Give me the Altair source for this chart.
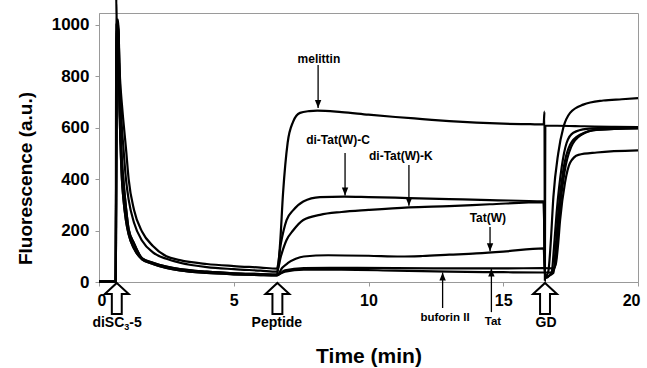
import altair as alt
import pandas as pd

# ---------------- data ----------------
BASE_T = [0.0, 0.62]
BASE_V = [2, 2]

DECAY_T = [0.66, 0.70, 0.78, 0.85, 0.90, 1.0, 1.1, 1.3, 1.6, 2.0, 2.5, 3.0, 4.0, 5.0, 6.0, 6.6]
DECAY_A = [1000, 1020, 790, 690, 630, 520, 400, 280, 195, 140, 100, 85, 70, 62, 56, 52]
DECAY_B = [1000, 1010, 760, 600, 530, 400, 320, 230, 160, 115, 90, 75, 58, 50, 44, 40]
DECAY_C = [1000, 1000, 640, 470, 400, 290, 205, 150, 92, 75, 60, 50, 40, 34, 31, 29]
DECAY_D = [1000, 990, 600, 400, 330, 240, 185, 130, 88, 70, 55, 45, 35, 30, 27, 26]

MEL_SPIKE_T = [0.64]
MEL_SPIKE_V = [1100]

MEL_T = [6.72, 6.83, 7.0, 7.2, 7.46, 7.8, 8.1, 9.0, 10.0, 11.0, 12.0, 13.0, 14.0, 15.0, 16.0, 16.5,
         16.53, 16.545, 16.56, 16.6, 17.0, 18.0, 19.0, 20.0]
MEL_V = [150, 346, 541, 622, 657, 664, 666, 660, 650, 641, 633, 625, 619, 615, 613, 612,
         662, 5, 606, 607, 607, 605, 603, 602]

DTC_T = [6.75, 6.96, 7.2, 7.58, 8.2, 9.1, 10.0, 11.5, 13.0, 14.5, 16.5, 16.55, 16.67, 16.76, 16.86,
         17.04, 17.23, 17.48, 17.97, 18.71, 19.4, 20.0]
DTC_V = [150, 240, 278, 313, 330, 332, 330, 326, 322, 318, 313, 20, 40, 150, 330,
         500, 600, 657, 689, 705, 710, 714]

DTK_T = [6.75, 6.96, 7.2, 7.58, 8.2, 9.0, 10.0, 11.5, 13.0, 14.5, 16.5, 16.55, 16.80, 16.88, 16.98,
         17.17, 17.35, 17.60, 18.10, 19.08, 20.0]
DTK_V = [100, 163, 200, 241, 261, 272, 280, 290, 295, 302, 310, 15, 40, 130, 268,
         447, 540, 580, 595, 600, 601]

TATW_T = [6.8, 7.0, 7.3, 7.6, 8.5, 10.0, 11.2, 12.0, 13.0, 14.0, 15.0, 16.5, 16.55, 16.86, 16.95,
          17.04, 17.23, 17.48, 17.85, 18.47, 20.0]
TATW_V = [55, 73, 90, 99, 104, 102, 99, 101, 106, 111, 118, 131, 20, 35, 140,
          268, 436, 533, 572, 591, 598]

BUF_T = [6.9, 7.6, 9.0, 11.0, 13.0, 15.0, 16.5, 16.8, 16.92, 17.0, 17.08, 17.27, 17.52, 17.9, 18.5, 20.0]
BUF_V = [40, 48, 48, 44, 40, 38, 37, 37, 60, 140, 260, 425, 525, 572, 592, 597]

TAT_T = [6.9, 7.6, 9.0, 11.0, 13.0, 15.0, 16.5, 16.85, 16.95, 17.03, 17.11, 17.29, 17.48, 17.79, 18.47, 20.0]
TAT_V = [45, 54, 55, 54, 53, 53, 54, 53, 70, 140, 241, 385, 463, 494, 503, 511]

# annotations (data coordinates)
LABEL_TEXT = ["melittin", "di-Tat(W)-C", "di-Tat(W)-K", "Tat(W)"]
LABEL_T = [8.16, 8.87, 11.2, 14.43]
LABEL_V = [866, 552, 489, 249]
DOWN_T = [8.13, 9.13, 11.50, 14.51]
DOWN_FROM = [843, 501, 455, 214]
DOWN_TIP = [676, 336, 296, 119]

LOW_TEXT = ["buforin II", "Tat"]
LOW_T = [12.84, 14.62]
LOW_V = [-140, -155]
UP_T = [12.75, 14.56]
UP_FROM = [-101, -117]
UP_TIP = [37, 52]

EVENT_T = [0.66, 6.62, 16.55]
EVENT_V = [-64, -64, -64]
EVENT_TEXT = ["Peptide", "GD"]
EVENT_TEXT_T = [6.60, 16.59]
EVENT_TEXT_V = [-159, -159]
DYE_T = [0.668]
DYE_V = [-159]

FONT = "Liberation Sans"

# ---------------- build tables ----------------
traces = [
    ("melittin", BASE_T + MEL_SPIKE_T + DECAY_T + MEL_T, BASE_V + MEL_SPIKE_V + DECAY_C + MEL_V),
    ("di-Tat(W)-C", BASE_T + DECAY_T + DTC_T, BASE_V + DECAY_A + DTC_V),
    ("di-Tat(W)-K", BASE_T + DECAY_T + DTK_T, BASE_V + DECAY_B + DTK_V),
    ("Tat(W)", BASE_T + DECAY_T + TATW_T, BASE_V + DECAY_D + TATW_V),
    ("buforin II", BASE_T + DECAY_T + BUF_T, BASE_V + DECAY_C + BUF_V),
    ("Tat", BASE_T + DECAY_T + TAT_T, BASE_V + DECAY_D + TAT_V),
]
rows = []
for name, ts, vs in traces:
    for i, (t, v) in enumerate(zip(ts, vs)):
        rows.append({"series": name, "t": t, "v": v, "i": i})
df = pd.DataFrame(rows)

lab_df = pd.DataFrame({"t": LABEL_T, "v": LABEL_V, "text": LABEL_TEXT})
down_df = pd.DataFrame({"t": DOWN_T, "v": DOWN_FROM, "v2": DOWN_TIP})
downtip_df = pd.DataFrame({"t": DOWN_T, "v": DOWN_TIP})
low_df = pd.DataFrame({"t": LOW_T, "v": LOW_V, "text": LOW_TEXT})
up_df = pd.DataFrame({"t": UP_T, "v": UP_FROM, "v2": UP_TIP})
uptip_df = pd.DataFrame({"t": UP_T, "v": UP_TIP})
event_df = pd.DataFrame({"t": EVENT_T, "v": EVENT_V})
event_text_df = pd.DataFrame({"t": EVENT_TEXT_T, "v": EVENT_TEXT_V, "text": EVENT_TEXT})
dye_df = pd.DataFrame({"t": DYE_T, "v": DYE_V})

xs = alt.Scale(domain=[0, 20], nice=False, zero=False)
ys = alt.Scale(domain=[0, 1045], nice=False, zero=False)

x_axis = alt.Axis(values=[0, 5, 10, 15, 20], title="Time (min)", grid=False,
                  labelFont=FONT, labelFontSize=16, labelFontWeight="bold", labelColor="black",
                  labelPadding=6, labelFlushOffset=2, tickSize=4, tickColor="#999999", domainColor="#999999",
                  titleFont=FONT, titleFontSize=21, titleFontWeight="bold", titleColor="black",
                  titleY=74, titleBaseline="middle")
y_axis = alt.Axis(values=[0, 200, 400, 600, 800, 1000], format="d", title="Fluorescence (a.u.)", grid=False,
                  labelFont=FONT, labelFontSize=17, labelFontWeight="bold", labelColor="black",
                  labelPadding=6, tickSize=4, tickColor="#999999", domainColor="#999999",
                  titleFont=FONT, titleFontSize=19, titleFontWeight="bold", titleColor="black",
                  titleAngle=270, titleX=-74, titleY=165, titleBaseline="middle", titleAlign="center")

X = alt.X("t:Q", scale=xs, axis=x_axis)
Y = alt.Y("v:Q", scale=ys, axis=y_axis)

lines = alt.Chart(df).mark_line(color="black", strokeWidth=2.2, interpolate="monotone", clip=False).encode(
    x=X, y=Y, detail="series:N", order="i:Q")

down_rules = alt.Chart(down_df).mark_rule(color="black", strokeWidth=1.3).encode(
    x=X, y=Y, y2="v2:Q")
down_heads = alt.Chart(downtip_df).mark_point(
    shape="M0,0 L-0.4,-1 L0.4,-1 Z", filled=True, color="black", size=256, opacity=1).encode(x=X, y=Y)
up_rules = alt.Chart(up_df).mark_rule(color="black", strokeWidth=1.3).encode(
    x=X, y=Y, y2="v2:Q")
up_heads = alt.Chart(uptip_df).mark_point(
    shape="M0,0 L-0.4,1 L0.4,1 Z", filled=True, color="black", size=256, opacity=1).encode(x=X, y=Y)

labels = alt.Chart(lab_df).mark_text(font=FONT, fontSize=12, fontWeight="bold", color="black",
                                     baseline="middle", align="center").encode(x=X, y=Y, text="text:N")
low_labels = alt.Chart(low_df).mark_text(font=FONT, fontSize=11.5, fontWeight="bold", color="black",
                                         baseline="middle", align="center").encode(x=X, y=Y, text="text:N")

events = alt.Chart(event_df).mark_point(
    shape="M0,-1 L0.77,-0.29 L0.32,-0.29 L0.32,1 L-0.32,1 L-0.32,-0.29 L-0.77,-0.29 Z",
    filled=True, fill="white", stroke="black", strokeWidth=2, size=961, opacity=1).encode(x=X, y=Y)
event_labels = alt.Chart(event_text_df).mark_text(font=FONT, fontSize=14, fontWeight="bold", color="black",
                                                  baseline="middle", align="center").encode(x=X, y=Y, text="text:N")
dye_a = alt.Chart(dye_df).mark_text(text="diSC", font=FONT, fontSize=14, fontWeight="bold", color="black",
                                    baseline="middle", align="right", dx=7.3).encode(x=X, y=Y)
dye_b = alt.Chart(dye_df).mark_text(text="3", font=FONT, fontSize=9, fontWeight="bold", color="black",
                                    baseline="middle", align="left", dx=7.3, dy=4).encode(x=X, y=Y)
dye_c = alt.Chart(dye_df).mark_text(text="-5", font=FONT, fontSize=14, fontWeight="bold", color="black",
                                    baseline="middle", align="left", dx=12.3).encode(x=X, y=Y)

chart = alt.layer(
    lines, down_rules, down_heads, up_rules, up_heads, labels, low_labels,
    events, event_labels, dye_a, dye_b, dye_c
).properties(
    width=539, height=269,
    autosize=alt.AutoSizeParams(type="none"),
    padding={"left": 99, "top": 13, "right": 9, "bottom": 86},
    background="white",
).configure_view(stroke="#9a9a9a", strokeWidth=1)

chart.save("out.html", embed_options={"renderer": "svg", "actions": False})
